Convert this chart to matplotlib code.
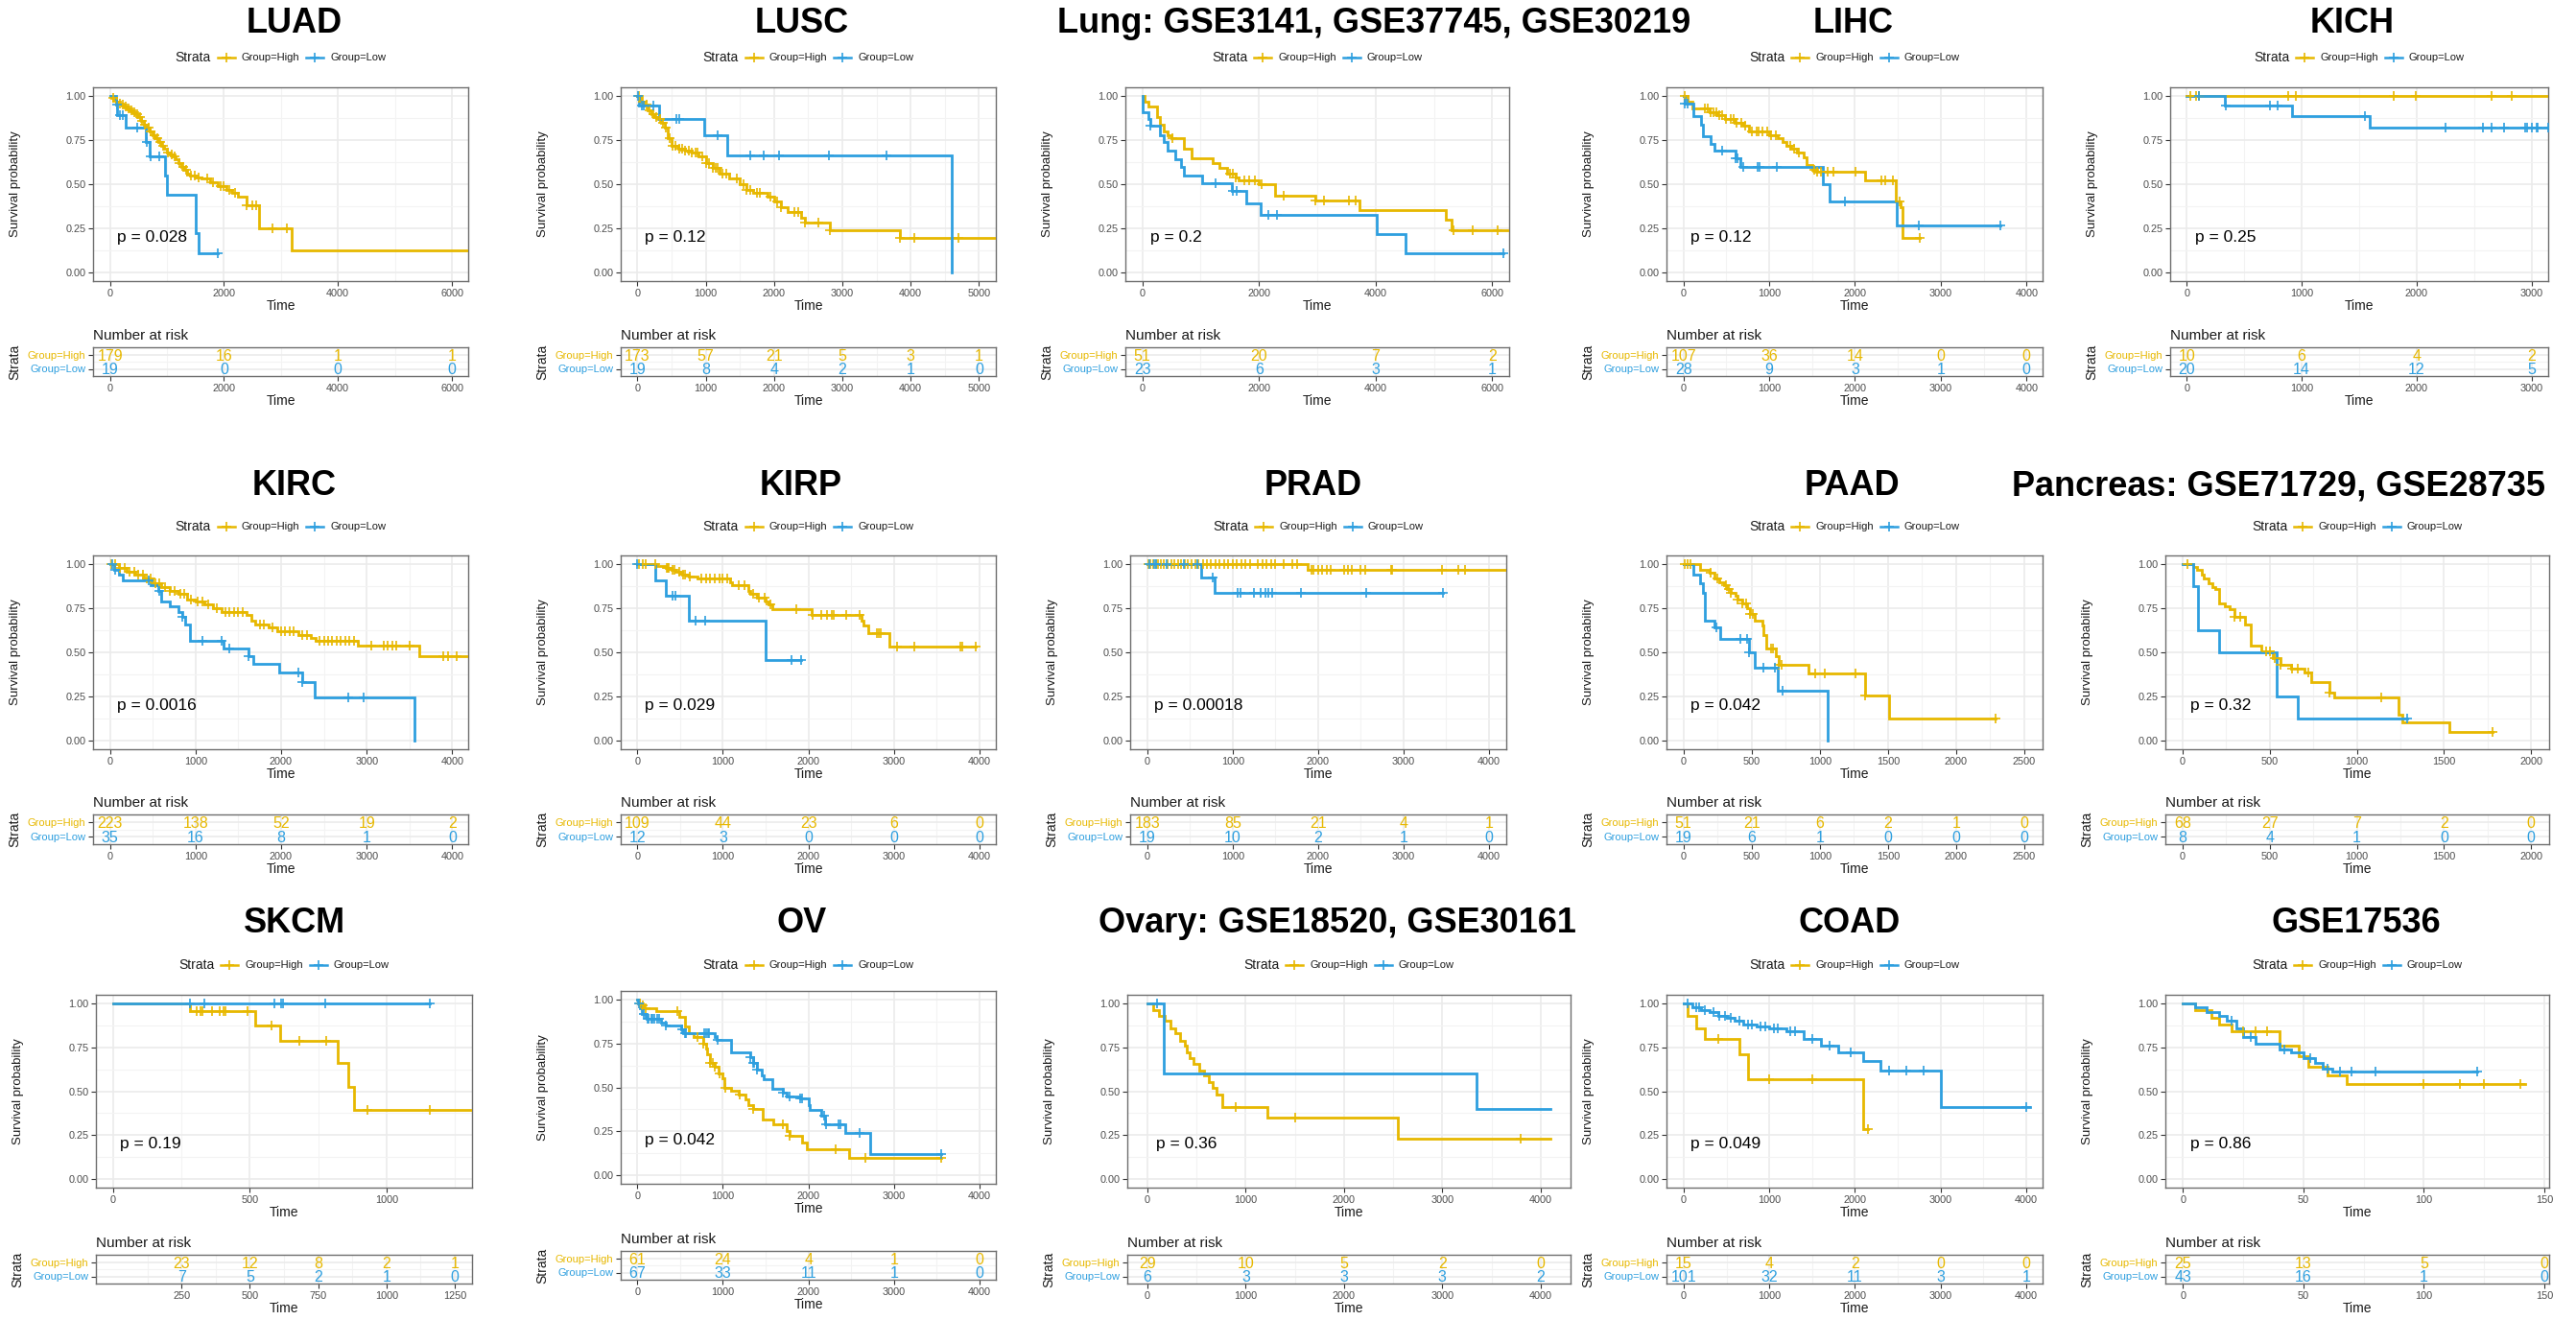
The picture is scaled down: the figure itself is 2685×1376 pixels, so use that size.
import numpy as np
import matplotlib
matplotlib.use("Agg")
import matplotlib.pyplot as plt
import matplotlib.transforms as mtransforms
from matplotlib.ticker import FixedLocator
from matplotlib.offsetbox import HPacker, TextArea, DrawingArea, AnchoredOffsetbox
from matplotlib.lines import Line2D

plt.rcParams['font.family'] = ['Liberation Sans', 'DejaVu Sans']

HIGH_COLOR = '#E7B800'
LOW_COLOR = '#2E9FDF'

# ---------------------------------------------------------------- data
# Kaplan-Meier curves: event times (t), survival after each event (s),
# censoring times (c) and last follow-up time (end) for each group.

LUAD_HIGH_T = [30, 60, 100, 150, 200, 250, 300, 350, 400, 450, 500, 550, 600, 650, 700, 750, 800, 850, 900, 950,
               1000, 1050, 1100, 1150, 1200, 1250, 1300, 1350, 1400, 1500, 1600, 1750, 1900, 2050, 2150, 2250, 2400, 2620, 3180]
LUAD_HIGH_S = [0.99, 0.98, 0.97, 0.96, 0.95, 0.94, 0.93, 0.92, 0.91, 0.90, 0.88, 0.86, 0.84, 0.82, 0.80, 0.78, 0.76, 0.74, 0.72, 0.70,
               0.68, 0.67, 0.66, 0.64, 0.62, 0.60, 0.58, 0.56, 0.55, 0.54, 0.53, 0.51, 0.49, 0.47, 0.45, 0.43, 0.38, 0.25, 0.125]
LUAD_HIGH_C = [50, 120, 180, 220, 280, 330, 380, 420, 480, 520, 560, 620, 680, 720, 780, 830, 880, 930, 1020, 1080, 1130,
               1220, 1280, 1330, 1420, 1480, 1550, 1700, 1800, 1950, 2000, 2100, 2200, 2400, 2500, 2560, 2850, 3100]
LUAD_HIGH_END = 6290
LUAD_LOW_T = [100, 130, 280, 630, 700, 960, 1000, 1500, 1550]
LUAD_LOW_S = [0.95, 0.89, 0.82, 0.74, 0.66, 0.55, 0.44, 0.22, 0.11]
LUAD_LOW_C = [120, 180, 220, 470, 650, 720, 870, 1890]
LUAD_LOW_END = 1890
LUAD_RISK_T = [0, 2000, 4000, 6000]
LUAD_RISK_HIGH = [179, 16, 1, 1]
LUAD_RISK_LOW = [19, 0, 0, 0]
LUAD_P = "p = 0.028"

LUSC_HIGH_T = [50, 100, 150, 200, 250, 300, 350, 400, 450, 500, 600, 700, 800, 900, 1000, 1100, 1200, 1350, 1500, 1600,
               1700, 1900, 2000, 2100, 2200, 2400, 2450, 2820, 3850]
LUSC_HIGH_S = [0.97, 0.95, 0.92, 0.90, 0.88, 0.87, 0.85, 0.82, 0.76, 0.72, 0.70, 0.69, 0.68, 0.66, 0.62, 0.59, 0.56, 0.53, 0.50, 0.47,
               0.45, 0.43, 0.40, 0.37, 0.34, 0.31, 0.28, 0.24, 0.195]
LUSC_HIGH_C = [30, 80, 130, 180, 230, 280, 330, 380, 420, 470, 520, 560, 620, 650, 700, 750, 800, 850, 880, 950, 1000, 1050,
               1100, 1150, 1180, 1250, 1300, 1450, 1550, 1600, 1650, 1750, 1800, 1950, 2050, 2100, 2300, 2350, 2450, 2650,
               2820, 3850, 4050, 4700]
LUSC_HIGH_END = 5250
LUSC_LOW_T = [20, 320, 980, 1320, 4600]
LUSC_LOW_S = [0.945, 0.87, 0.775, 0.665, 0.0]
LUSC_LOW_C = [10, 60, 100, 240, 570, 620, 1180, 1650, 1850, 2070, 2800, 3650]
LUSC_LOW_END = 4600
LUSC_RISK_T = [0, 1000, 2000, 3000, 4000, 5000]
LUSC_RISK_HIGH = [173, 57, 21, 5, 3, 1]
LUSC_RISK_LOW = [19, 8, 4, 2, 1, 0]
LUSC_P = "p = 0.12"

LUNG_HIGH_T = [30, 100, 250, 300, 370, 430, 500, 720, 840, 1200, 1320, 1450, 1600, 1650, 2000, 2280, 2960, 3720, 5200, 5300]
LUNG_HIGH_S = [0.97, 0.94, 0.88, 0.84, 0.80, 0.78, 0.76, 0.70, 0.645, 0.62, 0.59, 0.56, 0.54, 0.52, 0.50, 0.435, 0.405, 0.355, 0.30, 0.24]
LUNG_HIGH_C = [520, 1500, 1560, 1600, 1750, 1830, 1930, 2050, 2420, 2970, 3110, 3550, 3650, 5330, 5670, 6100]
LUNG_HIGH_END = 6300
LUNG_LOW_T = [10, 100, 140, 300, 370, 430, 560, 660, 720, 1030, 1540, 1780, 2030, 4020, 4520]
LUNG_LOW_S = [0.91, 0.87, 0.83, 0.78, 0.74, 0.69, 0.64, 0.60, 0.55, 0.505, 0.46, 0.39, 0.325, 0.215, 0.11]
LUNG_LOW_C = [140, 1250, 1560, 1620, 2160, 2310, 6190]
LUNG_LOW_END = 6190
LUNG_RISK_T = [0, 2000, 4000, 6000]
LUNG_RISK_HIGH = [51, 20, 7, 2]
LUNG_RISK_LOW = [23, 6, 3, 1]
LUNG_P = "p = 0.2"

LIHC_HIGH_T = [50, 100, 300, 400, 480, 600, 700, 760, 1000, 1100, 1150, 1200, 1260, 1320, 1400, 1440, 1500, 1550, 2120, 2470, 2530, 2550]
LIHC_HIGH_S = [0.97, 0.93, 0.91, 0.89, 0.87, 0.85, 0.83, 0.80, 0.78, 0.76, 0.74, 0.72, 0.70, 0.68, 0.65, 0.61, 0.58, 0.57, 0.52, 0.40, 0.37, 0.195]
LIHC_HIGH_C = [20, 250, 280, 320, 350, 380, 420, 450, 500, 550, 580, 620, 680, 720, 800, 850, 880, 920, 980, 1020, 1080,
               1250, 1290, 1350, 1520, 1560, 1600, 1680, 1750, 2010, 2310, 2350, 2440, 2520, 2760]
LIHC_HIGH_END = 2760
LIHC_LOW_T = [10, 120, 200, 230, 320, 360, 610, 660, 1620, 1700, 2490]
LIHC_LOW_S = [0.96, 0.885, 0.84, 0.77, 0.73, 0.69, 0.645, 0.60, 0.50, 0.40, 0.265]
LIHC_LOW_C = [10, 50, 450, 610, 630, 700, 860, 890, 1090, 1880, 2740, 3700]
LIHC_LOW_END = 3700
LIHC_RISK_T = [0, 1000, 2000, 3000, 4000]
LIHC_RISK_HIGH = [107, 36, 14, 0, 0]
LIHC_RISK_LOW = [28, 9, 3, 1, 0]
LIHC_P = "p = 0.12"

KICH_HIGH_T = []
KICH_HIGH_S = []
KICH_HIGH_C = [30, 80, 110, 880, 950, 1800, 1990, 2650, 2830]
KICH_HIGH_END = 3150
KICH_LOW_T = [330, 920, 1590]
KICH_LOW_S = [0.945, 0.885, 0.82]
KICH_LOW_C = [110, 340, 720, 790, 1550, 2250, 2580, 2650, 2760, 2940, 2960, 3000, 3040, 3050, 3140]
KICH_LOW_END = 3150
KICH_RISK_T = [0, 1000, 2000, 3000]
KICH_RISK_HIGH = [10, 6, 4, 2]
KICH_RISK_LOW = [20, 14, 12, 5]
KICH_P = "p = 0.25"

KIRC_HIGH_T = [100, 200, 300, 400, 500, 600, 700, 800, 900, 1000, 1100, 1200, 1300, 1600, 1650, 1700, 1850, 1950,
               2200, 2350, 2400, 2900, 3620]
KIRC_HIGH_S = [0.98, 0.96, 0.94, 0.92, 0.89, 0.87, 0.85, 0.83, 0.80, 0.79, 0.77, 0.75, 0.73, 0.71, 0.68, 0.66, 0.64, 0.62,
               0.60, 0.58, 0.565, 0.54, 0.48]
KIRC_HIGH_C = [20, 60, 120, 170, 230, 280, 330, 380, 430, 480, 530, 580, 640, 700, 750, 820, 870, 950, 1030, 1080, 1150,
               1250, 1350, 1400, 1450, 1500, 1550, 1750, 1800, 1900, 2000, 2050, 2100, 2150, 2250, 2300, 2450, 2500, 2550,
               2600, 2650, 2700, 2750, 2800, 2850, 3050, 3200, 3250, 3300, 3350, 3500, 3900, 3950, 4050]
KIRC_HIGH_END = 4200
KIRC_LOW_T = [50, 100, 150, 470, 560, 600, 700, 800, 850, 880, 930, 1330, 1620, 1680, 1980, 2250, 2390, 3560]
KIRC_LOW_S = [0.97, 0.94, 0.91, 0.88, 0.85, 0.79, 0.76, 0.73, 0.70, 0.66, 0.565, 0.52, 0.48, 0.435, 0.385, 0.33, 0.245, 0.0]
KIRC_LOW_C = [30, 60, 450, 580, 850, 1080, 1300, 1400, 1620, 2200, 2250, 2780, 2960]
KIRC_LOW_END = 3560
KIRC_RISK_T = [0, 1000, 2000, 3000, 4000]
KIRC_RISK_HIGH = [223, 138, 52, 19, 2]
KIRC_RISK_LOW = [35, 16, 8, 1, 0]
KIRC_P = "p = 0.0016"

KIRP_HIGH_T = [230, 330, 400, 450, 500, 520, 600, 700, 1080, 1110, 1300, 1320, 1400, 1500, 1530, 1580, 2040, 2620, 2640, 2700, 2940]
KIRP_HIGH_S = [0.99, 0.98, 0.97, 0.96, 0.95, 0.94, 0.93, 0.92, 0.90, 0.88, 0.85, 0.83, 0.81, 0.79, 0.77, 0.745, 0.71, 0.68, 0.655, 0.61, 0.53]
KIRP_HIGH_C = [20, 60, 100, 210, 340, 360, 370, 410, 430, 490, 540, 560, 610, 750, 800, 850, 900, 960, 1000, 1050, 1180,
               1250, 1350, 1420, 1490, 1560, 1860, 2050, 2150, 2220, 2270, 2300, 2440, 2600, 2800, 2820, 2840, 3040, 3240,
               3780, 3800, 3950]
KIRP_HIGH_END = 3950
KIRP_LOW_T = [210, 330, 600, 1500]
KIRP_LOW_S = [0.91, 0.82, 0.68, 0.455]
KIRP_LOW_C = [0, 410, 440, 680, 790, 1800, 1910]
KIRP_LOW_END = 1910
KIRP_RISK_T = [0, 1000, 2000, 3000, 4000]
KIRP_RISK_HIGH = [109, 44, 23, 6, 0]
KIRP_RISK_LOW = [12, 3, 0, 0, 0]
KIRP_P = "p = 0.029"

PRAD_HIGH_T = [1880]
PRAD_HIGH_S = [0.97]
PRAD_HIGH_C = [10, 40, 70, 100, 130, 160, 200, 240, 280, 320, 360, 400, 440, 480, 520, 560, 600, 650, 700, 750, 800, 850,
               900, 950, 1000, 1050, 1100, 1150, 1200, 1300, 1350, 1400, 1450, 1500, 1600, 1700, 1750, 1920, 1950, 2000,
               2050, 2100, 2150, 2300, 2350, 2400, 2500, 2550, 2850, 2870, 3450, 3640, 3720]
PRAD_HIGH_END = 4200
PRAD_LOW_T = [630, 790]
PRAD_LOW_S = [0.925, 0.84]
PRAD_LOW_C = [30, 80, 100, 230, 430, 590, 770, 1060, 1090, 1250, 1330, 1380, 1420, 1460, 1800, 2560, 3460]
PRAD_LOW_END = 3460
PRAD_RISK_T = [0, 1000, 2000, 3000, 4000]
PRAD_RISK_HIGH = [183, 85, 21, 4, 1]
PRAD_RISK_LOW = [19, 10, 2, 1, 0]
PRAD_P = "p = 0.00018"

PAAD_HIGH_T = [120, 190, 230, 260, 300, 320, 350, 380, 400, 430, 470, 490, 520, 580, 590, 610, 680, 700, 920, 1330, 1510]
PAAD_HIGH_S = [0.97, 0.95, 0.92, 0.90, 0.88, 0.86, 0.84, 0.82, 0.80, 0.78, 0.75, 0.72, 0.68, 0.65, 0.60, 0.52, 0.48, 0.43, 0.38, 0.255, 0.125]
PAAD_HIGH_C = [10, 30, 50, 200, 250, 310, 330, 350, 400, 430, 460, 490, 510, 640, 660, 700, 720, 970, 1040, 1260, 1330, 2290]
PAAD_HIGH_END = 2290
PAAD_LOW_T = [70, 120, 140, 160, 230, 270, 480, 520, 690, 1060]
PAAD_LOW_S = [0.94, 0.89, 0.84, 0.68, 0.64, 0.575, 0.50, 0.415, 0.28, 0.0]
PAAD_LOW_C = [240, 420, 470, 480, 590, 670, 730]
PAAD_LOW_END = 1060
PAAD_RISK_T = [0, 500, 1000, 1500, 2000, 2500]
PAAD_RISK_HIGH = [51, 21, 6, 2, 1, 0]
PAAD_RISK_LOW = [19, 6, 1, 0, 0, 0]
PAAD_P = "p = 0.042"

PANC_HIGH_T = [60, 80, 110, 120, 150, 170, 190, 210, 240, 270, 300, 360, 390, 450, 520, 560, 620, 700, 740, 840, 870, 1240, 1260, 1530]
PANC_HIGH_S = [0.985, 0.97, 0.94, 0.92, 0.89, 0.87, 0.86, 0.78, 0.76, 0.745, 0.70, 0.66, 0.54, 0.505, 0.47, 0.43, 0.41, 0.387,
               0.33, 0.274, 0.243, 0.144, 0.10, 0.049]
PANC_HIGH_C = [30, 300, 330, 480, 500, 530, 560, 630, 660, 720, 840, 1140, 1780]
PANC_HIGH_END = 1780
PANC_LOW_T = [60, 90, 210, 540, 660]
PANC_LOW_S = [0.875, 0.625, 0.50, 0.25, 0.125]
PANC_LOW_C = [1290]
PANC_LOW_END = 1290
PANC_RISK_T = [0, 500, 1000, 1500, 2000]
PANC_RISK_HIGH = [68, 27, 7, 2, 0]
PANC_RISK_LOW = [8, 4, 1, 0, 0]
PANC_P = "p = 0.32"

SKCM_HIGH_T = [280, 520, 610, 820, 860, 880]
SKCM_HIGH_S = [0.955, 0.875, 0.79, 0.66, 0.525, 0.395]
SKCM_HIGH_C = [305, 320, 325, 360, 390, 405, 410, 490, 580, 680, 780, 930, 1160]
SKCM_HIGH_END = 1313
SKCM_LOW_T = []
SKCM_LOW_S = []
SKCM_LOW_C = [280, 335, 590, 615, 620, 775, 1160]
SKCM_LOW_END = 1160
SKCM_RISK_T = [250, 500, 750, 1000, 1250]
SKCM_RISK_HIGH = [23, 12, 8, 2, 1]
SKCM_RISK_LOW = [7, 5, 2, 1, 0]
SKCM_P = "p = 0.19"

OV_HIGH_T = [20, 50, 80, 220, 490, 560, 600, 660, 770, 800, 820, 850, 900, 950, 1000, 1020, 1100, 1180, 1260, 1300,
             1350, 1460, 1590, 1750, 1780, 1920, 1980, 2470]
OV_HIGH_S = [0.98, 0.967, 0.95, 0.934, 0.90, 0.85, 0.81, 0.785, 0.75, 0.72, 0.69, 0.64, 0.62, 0.58, 0.55, 0.50, 0.48, 0.457,
             0.43, 0.40, 0.375, 0.315, 0.29, 0.25, 0.225, 0.185, 0.145, 0.10]
OV_HIGH_C = [30, 60, 100, 470, 700, 770, 850, 880, 910, 960, 1030, 1200, 1350, 1700, 1780, 2320, 2660, 3550]
OV_HIGH_END = 3550
OV_LOW_T = [10, 30, 50, 100, 110, 280, 330, 510, 540, 910, 930, 1100, 1320, 1350, 1400, 1450, 1480, 1580, 1700, 1750,
            1900, 2000, 2010, 2150, 2190, 2430, 2720]
OV_LOW_S = [0.98, 0.95, 0.92, 0.90, 0.89, 0.87, 0.855, 0.83, 0.81, 0.79, 0.77, 0.70, 0.67, 0.64, 0.60, 0.57, 0.545, 0.49,
            0.47, 0.45, 0.435, 0.40, 0.37, 0.34, 0.29, 0.24, 0.12]
OV_LOW_C = [20, 70, 115, 130, 160, 180, 200, 230, 260, 335, 520, 560, 570, 780, 800, 830, 840, 940, 1325, 1355, 1370,
            1400, 1700, 1780, 1900, 1930, 2180, 2200, 2350, 2370, 2600, 3550]
OV_LOW_END = 3550
OV_RISK_T = [0, 1000, 2000, 3000, 4000]
OV_RISK_HIGH = [61, 24, 4, 1, 0]
OV_RISK_LOW = [67, 33, 11, 1, 0]
OV_P = "p = 0.042"

OVARY_HIGH_T = [60, 120, 180, 230, 280, 330, 380, 400, 430, 470, 530, 580, 620, 660, 700, 760, 1220, 2550]
OVARY_HIGH_S = [0.965, 0.93, 0.90, 0.86, 0.83, 0.79, 0.76, 0.72, 0.69, 0.655, 0.62, 0.59, 0.55, 0.52, 0.48, 0.41, 0.35, 0.23]
OVARY_HIGH_C = [900, 1500, 3800]
OVARY_HIGH_END = 4100
OVARY_LOW_T = [170, 3350]
OVARY_LOW_S = [0.60, 0.40]
OVARY_LOW_C = [100]
OVARY_LOW_END = 4100
OVARY_RISK_T = [0, 1000, 2000, 3000, 4000]
OVARY_RISK_HIGH = [29, 10, 5, 2, 0]
OVARY_RISK_LOW = [6, 3, 3, 3, 2]
OVARY_P = "p = 0.36"

COAD_HIGH_T = [50, 150, 250, 650, 750, 2100]
COAD_HIGH_S = [0.93, 0.86, 0.80, 0.71, 0.57, 0.285]
COAD_HIGH_C = [400, 1000, 1500, 2150]
COAD_HIGH_END = 2150
COAD_LOW_T = [100, 200, 300, 400, 500, 600, 700, 850, 1000, 1200, 1400, 1600, 1800, 2100, 2300, 3000]
COAD_LOW_S = [0.98, 0.96, 0.95, 0.93, 0.92, 0.90, 0.88, 0.87, 0.86, 0.84, 0.80, 0.76, 0.72, 0.67, 0.615, 0.41]
COAD_LOW_C = [50, 150, 180, 250, 350, 420, 480, 550, 650, 750, 800, 900, 950, 1050, 1100, 1250, 1300, 1500, 1700, 1950,
              2400, 2600, 2800, 4000]
COAD_LOW_END = 4050
COAD_RISK_T = [0, 1000, 2000, 3000, 4000]
COAD_RISK_HIGH = [15, 4, 2, 0, 0]
COAD_RISK_LOW = [101, 32, 11, 3, 1]
COAD_P = "p = 0.049"

GSE17536_HIGH_T = [5, 12, 15, 20, 40, 48, 52, 60, 68]
GSE17536_HIGH_S = [0.96, 0.92, 0.88, 0.84, 0.76, 0.70, 0.64, 0.59, 0.54]
GSE17536_HIGH_C = [25, 30, 35, 100, 115, 125, 140]
GSE17536_HIGH_END = 142
GSE17536_LOW_T = [5, 10, 15, 18, 22, 25, 30, 40, 45, 50, 55, 58, 62]
GSE17536_LOW_S = [0.98, 0.95, 0.93, 0.90, 0.86, 0.81, 0.77, 0.74, 0.72, 0.69, 0.66, 0.63, 0.61]
GSE17536_LOW_C = [20, 28, 42, 53, 60, 65, 70, 80, 122]
GSE17536_LOW_END = 122
GSE17536_RISK_T = [0, 50, 100, 150]
GSE17536_RISK_HIGH = [25, 13, 5, 0]
GSE17536_RISK_LOW = [43, 16, 1, 0]
GSE17536_P = "p = 0.86"

TITLES = ["LUAD", "LUSC", "Lung: GSE3141, GSE37745, GSE30219", "LIHC", "KICH",
          "KIRC", "KIRP", "PRAD", "PAAD", "Pancreas: GSE71729, GSE28735",
          "SKCM", "OV", "Ovary: GSE18520, GSE30161", "COAD", "GSE17536"]

# panel table assembled from the named arrays above
PANELS = [
    ((LUAD_HIGH_T, LUAD_HIGH_S, LUAD_HIGH_C, LUAD_HIGH_END), (LUAD_LOW_T, LUAD_LOW_S, LUAD_LOW_C, LUAD_LOW_END),
     LUAD_RISK_T, LUAD_RISK_HIGH, LUAD_RISK_LOW, LUAD_P),
    ((LUSC_HIGH_T, LUSC_HIGH_S, LUSC_HIGH_C, LUSC_HIGH_END), (LUSC_LOW_T, LUSC_LOW_S, LUSC_LOW_C, LUSC_LOW_END),
     LUSC_RISK_T, LUSC_RISK_HIGH, LUSC_RISK_LOW, LUSC_P),
    ((LUNG_HIGH_T, LUNG_HIGH_S, LUNG_HIGH_C, LUNG_HIGH_END), (LUNG_LOW_T, LUNG_LOW_S, LUNG_LOW_C, LUNG_LOW_END),
     LUNG_RISK_T, LUNG_RISK_HIGH, LUNG_RISK_LOW, LUNG_P),
    ((LIHC_HIGH_T, LIHC_HIGH_S, LIHC_HIGH_C, LIHC_HIGH_END), (LIHC_LOW_T, LIHC_LOW_S, LIHC_LOW_C, LIHC_LOW_END),
     LIHC_RISK_T, LIHC_RISK_HIGH, LIHC_RISK_LOW, LIHC_P),
    ((KICH_HIGH_T, KICH_HIGH_S, KICH_HIGH_C, KICH_HIGH_END), (KICH_LOW_T, KICH_LOW_S, KICH_LOW_C, KICH_LOW_END),
     KICH_RISK_T, KICH_RISK_HIGH, KICH_RISK_LOW, KICH_P),
    ((KIRC_HIGH_T, KIRC_HIGH_S, KIRC_HIGH_C, KIRC_HIGH_END), (KIRC_LOW_T, KIRC_LOW_S, KIRC_LOW_C, KIRC_LOW_END),
     KIRC_RISK_T, KIRC_RISK_HIGH, KIRC_RISK_LOW, KIRC_P),
    ((KIRP_HIGH_T, KIRP_HIGH_S, KIRP_HIGH_C, KIRP_HIGH_END), (KIRP_LOW_T, KIRP_LOW_S, KIRP_LOW_C, KIRP_LOW_END),
     KIRP_RISK_T, KIRP_RISK_HIGH, KIRP_RISK_LOW, KIRP_P),
    ((PRAD_HIGH_T, PRAD_HIGH_S, PRAD_HIGH_C, PRAD_HIGH_END), (PRAD_LOW_T, PRAD_LOW_S, PRAD_LOW_C, PRAD_LOW_END),
     PRAD_RISK_T, PRAD_RISK_HIGH, PRAD_RISK_LOW, PRAD_P),
    ((PAAD_HIGH_T, PAAD_HIGH_S, PAAD_HIGH_C, PAAD_HIGH_END), (PAAD_LOW_T, PAAD_LOW_S, PAAD_LOW_C, PAAD_LOW_END),
     PAAD_RISK_T, PAAD_RISK_HIGH, PAAD_RISK_LOW, PAAD_P),
    ((PANC_HIGH_T, PANC_HIGH_S, PANC_HIGH_C, PANC_HIGH_END), (PANC_LOW_T, PANC_LOW_S, PANC_LOW_C, PANC_LOW_END),
     PANC_RISK_T, PANC_RISK_HIGH, PANC_RISK_LOW, PANC_P),
    ((SKCM_HIGH_T, SKCM_HIGH_S, SKCM_HIGH_C, SKCM_HIGH_END), (SKCM_LOW_T, SKCM_LOW_S, SKCM_LOW_C, SKCM_LOW_END),
     SKCM_RISK_T, SKCM_RISK_HIGH, SKCM_RISK_LOW, SKCM_P),
    ((OV_HIGH_T, OV_HIGH_S, OV_HIGH_C, OV_HIGH_END), (OV_LOW_T, OV_LOW_S, OV_LOW_C, OV_LOW_END),
     OV_RISK_T, OV_RISK_HIGH, OV_RISK_LOW, OV_P),
    ((OVARY_HIGH_T, OVARY_HIGH_S, OVARY_HIGH_C, OVARY_HIGH_END), (OVARY_LOW_T, OVARY_LOW_S, OVARY_LOW_C, OVARY_LOW_END),
     OVARY_RISK_T, OVARY_RISK_HIGH, OVARY_RISK_LOW, OVARY_P),
    ((COAD_HIGH_T, COAD_HIGH_S, COAD_HIGH_C, COAD_HIGH_END), (COAD_LOW_T, COAD_LOW_S, COAD_LOW_C, COAD_LOW_END),
     COAD_RISK_T, COAD_RISK_HIGH, COAD_RISK_LOW, COAD_P),
    ((GSE17536_HIGH_T, GSE17536_HIGH_S, GSE17536_HIGH_C, GSE17536_HIGH_END),
     (GSE17536_LOW_T, GSE17536_LOW_S, GSE17536_LOW_C, GSE17536_LOW_END),
     GSE17536_RISK_T, GSE17536_RISK_HIGH, GSE17536_RISK_LOW, GSE17536_P),
]

# ---------------------------------------------------------------- layout (pixels)
W, H = 2685, 1376
ROWS = [  # title y, legend y, main axes (top, bottom), risk table (top, bottom)
    dict(title_y=25, legend_y=60, main=(91, 293), risk=(362, 392)),
    dict(title_y=507, legend_y=549, main=(579, 781), risk=(849, 880)),
    dict(title_y=962, legend_y=1006, main=(1037, 1238), risk=(1308, 1338)),
]
# per panel: axes left/right, title centre x, x limits, main-axis ticks
LAYOUT = [
    (97, 488, 307, (-297, 6286), [0, 2000, 4000, 6000]),
    (647, 1038, 836, (-243, 5248), [0, 1000, 2000, 3000, 4000, 5000]),
    (1173, 1573, 1432, (-291, 6291), [0, 2000, 4000, 6000]),
    (1737, 2129, 1932, (-198, 4187), [0, 1000, 2000, 3000, 4000]),
    (2262, 2656, 2452, (-144, 3144), [0, 1000, 2000, 3000]),
    (97, 488, 307, (-198, 4187), [0, 1000, 2000, 3000, 4000]),
    (647, 1038, 835, (-194, 4190), [0, 1000, 2000, 3000, 4000]),
    (1178, 1570, 1369, (-198, 4202), [0, 1000, 2000, 3000, 4000]),
    (1737, 2129, 1930, (-124, 2634), [0, 500, 1000, 1500, 2000, 2500]),
    (2257, 2657, 2375, (-99, 2103), [0, 500, 1000, 1500, 2000]),
    (100, 492, 307, (-63, 1313), [0, 500, 1000]),
    (647, 1038, 836, (-194, 4190), [0, 1000, 2000, 3000, 4000]),
    (1175, 1637, 1394, (-205, 4305), [0, 1000, 2000, 3000, 4000]),
    (1737, 2129, 1928, (-200, 4190), [0, 1000, 2000, 3000, 4000]),
    (2257, 2657, 2456, (-7.3, 152), [0, 50, 100, 150]),
]

TEXT_DARK = '#1A1A1A'
TICK_TEXT = '#4D4D4D'
BORDER = '#6E6E6E'
GRID_MAJOR = '#EBEBEB'
GRID_MINOR = '#F3F3F3'

fig = plt.figure(figsize=(W / 100, H / 100), dpi=100)
fig.patch.set_facecolor('white')


def add_ax(x0, x1, y0, y1):
    return fig.add_axes([x0 / W, 1 - y1 / H, (x1 - x0) / W, (y1 - y0) / H])


def step_xy(t, s, end):
    x = np.concatenate([[0.0], np.asarray(t, float), [end]])
    last = s[-1] if len(s) else 1.0
    y = np.concatenate([[1.0], np.asarray(s, float), [last]])
    return x, y


def surv_at(t, s, times):
    tf = np.concatenate([[-np.inf], np.asarray(t, float)])
    sf = np.concatenate([[1.0], np.asarray(s, float)])
    idx = np.searchsorted(tf, np.asarray(times, float), side='right') - 1
    return sf[idx]


def style_axes(ax, xlim, ticks, ylim, yticks):
    ax.set_xlim(*xlim)
    ax.set_ylim(*ylim)
    ax.set_xticks(ticks)
    step = ticks[1] - ticks[0]
    minors = [ticks[0] - step / 2] + [v + step / 2 for v in ticks]
    ax.xaxis.set_minor_locator(FixedLocator(minors))
    ax.set_yticks(yticks)
    ax.set_axisbelow(True)
    ax.grid(which='major', color=GRID_MAJOR, lw=1.2)
    ax.grid(which='minor', color=GRID_MINOR, lw=0.8)
    ax.tick_params(which='major', length=3.5, width=0.8, color='#333333', labelsize=7.8,
                   labelcolor=TICK_TEXT, pad=2)
    ax.tick_params(which='minor', length=0)
    for sp in ax.spines.values():
        sp.set_color(BORDER)
        sp.set_linewidth(1.0)


def ylabel_left(ax, text, size):
    ax.set_ylabel(text, fontsize=size, color=TEXT_DARK)
    tr = ax.transAxes + mtransforms.ScaledTranslation(-75 / 100, 0, fig.dpi_scale_trans)
    ax.yaxis.set_label_coords(0, 0.5, transform=tr)


def add_legend(ax, y_frac):
    items = [TextArea("Strata", textprops=dict(fontsize=10, color=TEXT_DARK))]
    for lab, col in (("Group=High", HIGH_COLOR), ("Group=Low", LOW_COLOR)):
        da = DrawingArea(13, 8, 0, 0)
        da.add_artist(Line2D([0, 13], [4, 4], color=col, lw=1.8))
        da.add_artist(Line2D([6.5], [4], marker='+', color=col, ms=7, mew=1.2))
        items += [da, TextArea(lab, textprops=dict(fontsize=8, color=TEXT_DARK))]
    box = HPacker(children=items, align='center', pad=0, sep=5)
    ab = AnchoredOffsetbox(loc='center', child=box, frameon=False, pad=0, borderpad=0,
                           bbox_to_anchor=(0.5, y_frac), bbox_transform=ax.transAxes)
    ax.add_artist(ab)


for i, (panel, lay, title) in enumerate(zip(PANELS, LAYOUT, TITLES)):
    hi, lo, risk_t, risk_hi, risk_lo, ptxt = panel
    x0, x1, tx, xlim, ticks = lay
    row = ROWS[i // 5]
    mt, mb = row['main']
    rt, rb = row['risk']
    if i == 11:  # the OV panel sits a few pixels higher
        mt, mb, rt, rb = mt - 4, mb - 4, rt - 4, rb - 4

    fig.text(tx / W, 1 - row['title_y'] / H, title, ha='center', va='center',
             fontsize=26, fontweight='bold', color='black')

    # survival curves
    ax = add_ax(x0, x1, mt, mb)
    style_axes(ax, xlim, ticks, (-0.05, 1.05), [0, 0.25, 0.5, 0.75, 1.0])
    ax.yaxis.set_minor_locator(FixedLocator([0.125, 0.375, 0.625, 0.875]))
    ax.set_yticklabels(["0.00", "0.25", "0.50", "0.75", "1.00"])
    for (t, s, c, end), col in ((hi, HIGH_COLOR), (lo, LOW_COLOR)):
        x, y = step_xy(t, s, end)
        ax.plot(x, y, drawstyle='steps-post', color=col, lw=2.0, solid_joinstyle='miter',
                clip_on=True, zorder=3)
        ax.plot(c, surv_at(t, s, c), linestyle='none', marker='+', ms=6.5, mew=1.2,
                color=col, zorder=4)
    ax.text(0.065, 0.2, ptxt,
            transform=mtransforms.blended_transform_factory(ax.transAxes, ax.transData),
            ha='left', va='center', fontsize=12.5, color='black')
    ax.set_xlabel("Time", fontsize=10, color=TEXT_DARK, labelpad=1)
    ylabel_left(ax, "Survival probability", 9.5)
    add_legend(ax, 1 + (mt - row['legend_y']) / (mb - mt))

    # number-at-risk table
    rax = add_ax(x0, x1, rt, rb)
    style_axes(rax, xlim, risk_t, (0.5, 2.5), [1, 2])
    rax.yaxis.set_minor_locator(FixedLocator([1.5]))
    rax.set_yticklabels(["Group=Low", "Group=High"])
    for lbl, col in zip(rax.get_yticklabels(), (LOW_COLOR, HIGH_COLOR)):
        lbl.set_color(col)
        lbl.set_fontsize(8)
    for tt, nh, nl in zip(risk_t, risk_hi, risk_lo):
        rax.text(tt, 2, str(nh), ha='center', va='center_baseline', fontsize=11.5, color=HIGH_COLOR)
        rax.text(tt, 1, str(nl), ha='center', va='center_baseline', fontsize=11.5, color=LOW_COLOR)
    rax.set_title("Number at risk", loc='left', fontsize=11, color=TEXT_DARK, pad=6)
    rax.set_xlabel("Time", fontsize=10, color=TEXT_DARK, labelpad=1)
    ylabel_left(rax, "Strata", 10)

fig.savefig("out.png", dpi=100, facecolor='white')
